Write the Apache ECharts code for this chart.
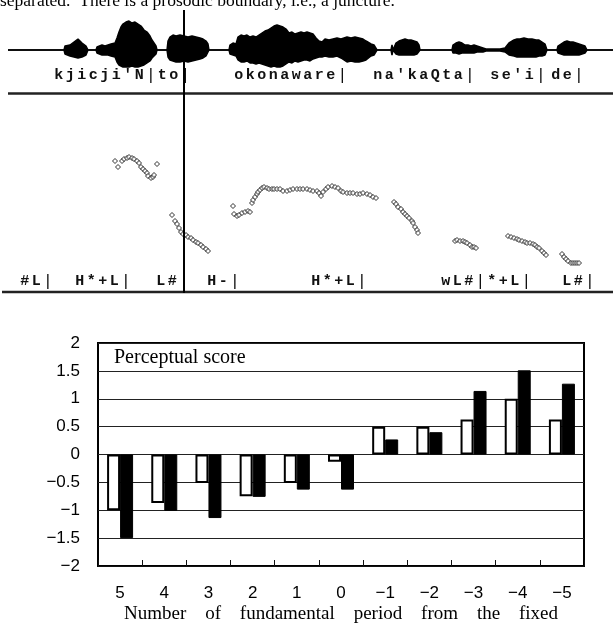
<!DOCTYPE html>
<html>
<head>
<meta charset="utf-8">
<script src="https://cdn.jsdelivr.net/npm/echarts/dist/echarts.min.js"></script>
<style>
  html, body { margin: 0; padding: 0; background: #fff; }
  #main { width: 613px; height: 623px; }
</style>
</head>
<body>
<div id="main"></div>
<script>
// bar chart data
const categories = ['5', '4', '3', '2', '1', '0', '−1', '−2', '−3', '−4', '−5']
const whiteScores = [-1.0, -0.87, -0.51, -0.75, -0.51, -0.13, 0.5, 0.5, 0.63, 1.0, 0.63]
const blackScores = [-1.5, -1.01, -1.14, -0.76, -0.63, -0.63, 0.27, 0.4, 1.14, 1.51, 1.27]
const axisName = ['Number', 'of', 'fundamental', 'period', 'from', 'the', 'fixed']

// waveform envelope (time, upper, lower)
const waveTime = [8, 64, 65, 67, 70, 72, 74, 76, 78, 80, 82, 84, 86, 87, 88,
  96, 97, 99, 102, 105, 108, 111, 113, 115, 117, 119, 121, 123, 126, 129, 132, 135, 138, 141, 144, 147, 150, 152, 154, 156, 157,
  167, 168, 170, 173, 176, 180, 184, 188, 192, 196, 200, 203, 206, 208, 209,
  229, 230, 233, 236, 238, 241, 244, 247, 250, 253, 256, 259, 262, 265, 268, 271, 274, 277, 280, 283, 286, 289, 292, 295, 298, 301, 304, 307, 310, 313, 316, 319, 322, 325, 329, 333, 337, 341, 344, 347, 351, 355, 359, 363, 366, 368, 371, 374, 376, 377,
  391, 392, 393, 395, 396, 399, 402, 405, 408, 411, 414, 417, 419, 420,
  452, 453, 456, 459, 462, 465, 468, 471, 474, 477, 480, 483, 486, 490, 495, 500, 505, 507,
  509, 511, 514, 517, 520, 524, 528, 532, 536, 539, 542, 545, 546, 547,
  557, 558, 561, 564, 567, 570, 573, 576, 579, 582, 585, 587, 613]
const waveUpper = [0, 0, 4, 5, 5, 6, 8, 9, 11, 9, 7, 5, 4, 3, 0,
  0, 3, 4, 5, 4, 5, 6, 5, 7, 12, 18, 23, 26, 28, 29, 27, 28, 26, 24, 20, 18, 14, 10, 7, 4, 0,
  0, 9, 13, 15, 14, 15, 14, 13, 14, 13, 12, 11, 9, 6, 0,
  0, 5, 7, 6, 13, 15, 14, 15, 13, 14, 13, 15, 17, 19, 20, 22, 24, 25, 24, 23, 21, 17, 18, 16, 17, 18, 17, 18, 17, 16, 12, 9, 8, 11, 10, 11, 12, 11, 12, 13, 12, 13, 12, 11, 9, 7, 6, 5, 3, 0,
  0, 5, 0, 0, 7, 9, 10, 11, 10, 10, 9, 8, 5, 0,
  0, 5, 7, 8, 7, 5, 5, 4, 5, 4, 3, 2, 1, 1, 1, 1, 2, 2,
  7, 9, 10, 11, 11, 12, 11, 11, 10, 10, 8, 6, 4, 0,
  0, 4, 6, 8, 9, 8, 8, 7, 6, 5, 4, 0, 0]
const waveLower = [0, 0, -4, -5, -6, -7, -7, -8, -8, -7, -7, -6, -5, -3, 0,
  0, -3, -4, -5, -5, -5, -6, -5, -7, -12, -15, -16, -17, -17, -17, -16, -17, -17, -16, -15, -13, -11, -8, -6, -4, 0,
  0, -7, -10, -11, -12, -12, -11, -12, -11, -10, -9, -8, -6, -4, 0,
  0, -4, -5, -6, -10, -12, -12, -11, -13, -13, -14, -13, -14, -15, -16, -17, -16, -17, -17, -16, -14, -12, -13, -11, -12, -11, -10, -10, -11, -9, -8, -7, -7, -6, -7, -7, -6, -8, -10, -12, -11, -12, -12, -11, -10, -8, -6, -5, -4, 0,
  0, -5, 0, 0, -4, -5, -5, -5, -5, -5, -5, -4, -3, 0,
  0, -3, -3, -4, -3, -3, -3, -3, -3, -2, -2, -2, -1, -1, -1, -1, -2, -2,
  -5, -6, -6, -7, -7, -7, -7, -7, -7, -6, -6, -5, -3, 0,
  0, -3, -4, -5, -5, -5, -5, -5, -5, -4, -3, 0, 0]

// pitch track (time, f0)
const pitchTime = [115, 118, 122, 124, 127, 129, 132, 134, 137, 139, 141, 143, 145, 147, 148, 151, 153, 154, 157,
  172, 175, 177, 179, 181, 183, 186, 188, 191, 193, 196, 198, 201, 203, 206, 208,
  233, 234, 237, 239, 242, 245, 248, 250, 252, 253, 255, 257, 258, 260, 262, 264, 267, 269, 272, 274, 277, 280,
  283, 287, 290, 293, 297, 300, 303, 307, 310, 313, 317, 319, 321, 323, 326, 328, 332, 335, 338, 341, 343, 347, 350, 353, 357, 360, 363, 367, 370, 373, 376,
  394, 396, 398, 401, 403, 405, 407, 409, 412, 413, 415, 417, 418,
  455, 457, 460, 463, 465, 467, 470, 472, 474, 476,
  508, 511, 514, 517, 519, 522, 525, 527, 530, 533, 535, 537, 539, 542, 544, 546,
  562, 564, 566, 568, 571, 573, 575, 577, 579]
const pitchF0 = [139, 133, 139, 141, 142, 143, 142, 141, 139, 137, 133, 131, 129, 127, 124, 122, 123, 125, 136,
  85, 79, 76, 72, 68, 66, 65, 63, 62, 60, 58, 57, 55, 53, 51, 49,
  94, 86, 84, 85, 87, 88, 89, 88, 97, 100, 103, 106, 108, 110, 112, 113, 112, 111, 111, 111, 111, 111,
  109, 109, 110, 111, 111, 111, 111, 111, 110, 109, 109, 107, 104, 108, 111, 113, 114, 113, 112, 109, 108, 107, 107, 107, 106, 106, 107, 106, 105, 103, 102,
  98, 96, 93, 91, 88, 86, 84, 82, 79, 77, 73, 70, 67,
  59, 60, 59, 59, 58, 57, 55, 53, 53, 52,
  64, 63, 62, 61, 60, 59, 58, 57, 57, 56, 55, 53, 52, 49, 47, 45,
  46, 43, 41, 39, 37, 37, 37, 37, 37]

// transcription tiers
const wordLabels = ["kjicji'N|to|", 'okonaware|', "na'kaQta|", "se'i|", 'de|']
const wordTimes = [53, 233, 372, 489, 550]
const toneLabels = ['#L|', 'H*+L|', 'L#|', 'H-|', 'H*+L|', 'wL#|*+L|', 'L#|']
const toneTimes = [19, 74, 155, 206, 310, 440, 561]
const boundaryTime = 184

const sentence = 'separated.  There is a prosodic boundary, i.e., a juncture.'

const serif = '"Liberation Serif", "Times New Roman", serif'
const sans = '"Liberation Sans Narrow", "Liberation Sans", Arial, sans-serif'
const mono = '"Liberation Mono", "DejaVu Sans Mono", monospace'

const chart = echarts.init(document.getElementById('main'))

const option = {
  animation: false,
  backgroundColor: '#fff',
  grid: [
    { left: 0, top: 0, width: 613, height: 100, containLabel: false, outerBoundsMode: 'none' },
    { left: 0, top: 100, width: 613, height: 200, containLabel: false, outerBoundsMode: 'none' },
    {
      left: 98, top: 343, width: 486, height: 223, containLabel: false, outerBoundsMode: 'none',
      show: true, borderColor: '#000', borderWidth: 2, backgroundColor: 'transparent'
    }
  ],
  xAxis: [
    { type: 'value', gridIndex: 0, min: 0, max: 613, show: false },
    { type: 'value', gridIndex: 1, min: 0, max: 613, show: false },
    {
      type: 'category', gridIndex: 2, data: categories, position: 'bottom',
      axisLine: { show: false }, axisTick: { show: false },
      axisLabel: { margin: 19, color: '#000', fontSize: 17, fontFamily: sans },
      splitLine: { show: false }
    },
    {
      type: 'category', gridIndex: 2, data: categories, position: 'bottom',
      axisLine: { show: true, onZero: true, lineStyle: { color: '#111', width: 1 } },
      axisTick: { show: true, inside: true, length: 6, lineStyle: { color: '#111', width: 1 } },
      axisLabel: { show: false },
      splitLine: { show: false }
    }
  ],
  yAxis: [
    { type: 'value', gridIndex: 0, min: -50, max: 50, show: false },
    { type: 'value', gridIndex: 1, min: 0, max: 200, show: false },
    {
      type: 'value', gridIndex: 2, min: -2, max: 2, interval: 0.5,
      axisLine: { show: false }, axisTick: { show: false },
      axisLabel: {
        margin: 18, color: '#000', fontSize: 17, fontFamily: sans,
        formatter: v => String(v).replace('-', '−')
      },
      splitLine: { show: true, lineStyle: { color: '#222', width: 1 } }
    }
  ],
  series: [
    {
      type: 'line', xAxisIndex: 0, yAxisIndex: 0,
      data: waveTime.map((t, i) => [t, waveUpper[i]]),
      showSymbol: false, symbol: 'none',
      lineStyle: { color: '#000', width: 1.5 },
      areaStyle: { color: '#000', opacity: 1 }
    },
    {
      type: 'line', xAxisIndex: 0, yAxisIndex: 0,
      data: waveTime.map((t, i) => [t, waveLower[i]]),
      showSymbol: false, symbol: 'none',
      lineStyle: { color: '#000', width: 1.5 },
      areaStyle: { color: '#000', opacity: 1 }
    },
    {
      type: 'scatter', xAxisIndex: 1, yAxisIndex: 1,
      data: pitchTime.map((t, i) => [t, pitchF0[i]]),
      symbol: 'diamond', symbolSize: 5,
      itemStyle: { color: '#fff', borderColor: '#000', borderWidth: 1 }
    },
    {
      type: 'bar', xAxisIndex: 3, yAxisIndex: 2,
      data: whiteScores, barWidth: 13, barGap: '0%',
      itemStyle: { color: '#fff', borderColor: '#000', borderWidth: 2 }
    },
    {
      type: 'bar', xAxisIndex: 3, yAxisIndex: 2,
      data: blackScores, barWidth: 13, barGap: '0%',
      itemStyle: { color: '#000', borderColor: '#000', borderWidth: 1 }
    }
  ]
}

chart.setOption(option)

const px = t => chart.convertToPixel({ xAxisIndex: 0 }, t)

// justify the x axis name across the width like the original typesetting
const ctx = document.createElement('canvas').getContext('2d')
const nameFont = '19px ' + serif
ctx.font = nameFont
const nameLeft = 124, nameRight = 558
const widths = axisName.map(w => ctx.measureText(w).width)
const gap = (nameRight - nameLeft - widths.reduce((a, b) => a + b, 0)) / (axisName.length - 1)
let cursor = nameLeft
const nameTexts = axisName.map((w, i) => {
  const el = {
    type: 'text', x: cursor, y: 614,
    style: { text: w, font: nameFont, fill: '#000', textAlign: 'left', textVerticalAlign: 'middle' }
  }
  cursor += widths[i] + gap
  return el
})

// tier labels: fixed pitch of a wide bitmap terminal font
const pitch = 11.5
const tierText = (label, t, y) => label.split('').map((ch, i) => ({
  type: 'text', x: px(t) + (i + 0.5) * pitch, y: y,
  style: {
    text: ch, font: (ch === '|' ? '17px ' : 'bold 15px ') + mono,
    fill: '#111', textAlign: 'center', textVerticalAlign: 'middle'
  }
}))

chart.setOption({
  graphic: [
    {
      type: 'text', x: 0, y: 1,
      style: { text: sentence, font: '17.5px ' + serif, fill: '#000', textAlign: 'left', textVerticalAlign: 'middle' }
    },
    {
      type: 'line', shape: { x1: px(boundaryTime), y1: 10, x2: px(boundaryTime), y2: 293 },
      style: { stroke: '#000', lineWidth: 2 }, z: 10
    },
    {
      type: 'line', shape: { x1: 8, y1: 93.5, x2: 613, y2: 93.5 },
      style: { stroke: '#222', lineWidth: 2.5 }
    },
    {
      type: 'line', shape: { x1: 2, y1: 292, x2: 613, y2: 292 },
      style: { stroke: '#222', lineWidth: 2.5 }
    },
    ...wordLabels.flatMap((w, i) => tierText(w, wordTimes[i], 75)),
    ...toneLabels.flatMap((w, i) => tierText(w, toneTimes[i], 281)),
    {
      type: 'text', x: 114, y: 358,
      style: { text: 'Perceptual score', font: '20px ' + serif, fill: '#000', textAlign: 'left', textVerticalAlign: 'middle' }
    },
    ...nameTexts
  ]
})
</script>
</body>
</html>
